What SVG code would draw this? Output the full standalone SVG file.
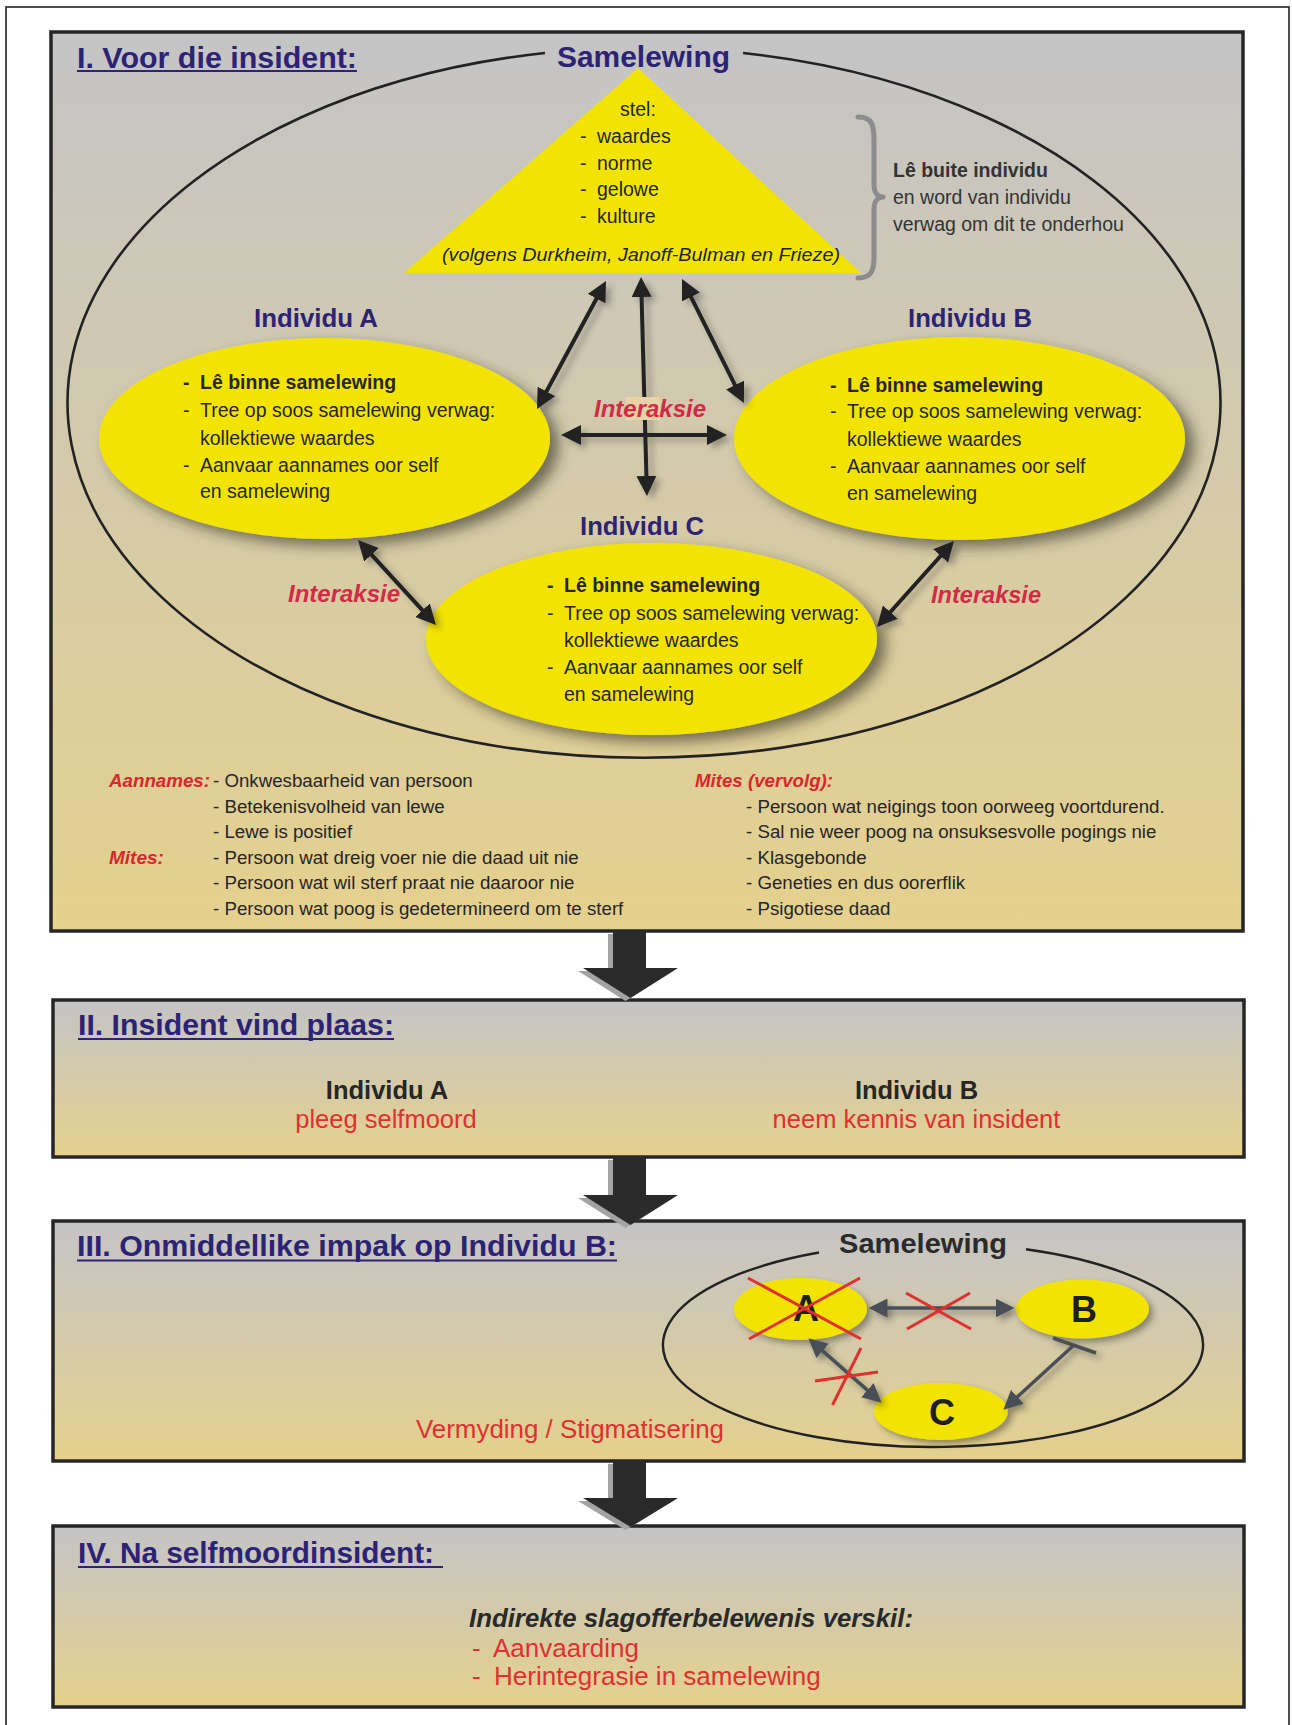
<svg xmlns="http://www.w3.org/2000/svg" width="1292" height="1725" viewBox="0 0 1292 1725">
<style>
text{font-family:"Liberation Sans",Arial,Helvetica,sans-serif}
.title{font-size:29px;font-weight:bold;fill:#2d2375}
.ind{font-size:25.5px;font-weight:bold;fill:#2d2375}
.b{font-size:19.5px;fill:#262626}
.bb{font-size:19.5px;font-weight:bold;fill:#262626}
.s{font-size:18.7px;fill:#262626}
.lab{font-size:19px;font-style:italic;font-weight:bold;fill:#d8282c}
.inter{font-size:23px;font-style:italic;font-weight:bold;fill:#d42a45}
.red{font-size:25.5px;fill:#e03030}
.blk{font-size:25.5px;font-weight:bold;fill:#262626}
.panel{fill:url(#pg);stroke:#262626;stroke-width:3.5}
.yel{fill:#f2e400}
.ul{stroke:#2d2375;stroke-width:2}
.arr{stroke:#222;stroke-width:4;fill:none}
.garr{stroke:#4a5057;stroke-width:3.5;fill:none}
.rx{stroke:#e0302f;stroke-width:3;fill:none}
.big{fill:#2a2a2a}
.bigsh{fill:#a3a3a3}
</style>
<defs>
<linearGradient id="pg" x1="0" y1="0" x2="0" y2="1">
<stop offset="0" stop-color="#c4c4c6"/>
<stop offset="1" stop-color="#e5d18d"/>
</linearGradient>
<filter id="sh" x="-20%" y="-30%" width="150%" height="170%">
<feDropShadow dx="9" dy="7" stdDeviation="7" flood-color="#2d2a22" flood-opacity="0.6"/>
</filter>
<filter id="ssh" x="-20%" y="-30%" width="150%" height="170%">
<feDropShadow dx="4" dy="4" stdDeviation="3" flood-color="#2d2a22" flood-opacity="0.45"/>
</filter>
<filter id="ash" filterUnits="userSpaceOnUse" x="0" y="0" width="1292" height="1725">
<feDropShadow dx="5" dy="4" stdDeviation="3" flood-color="#3a3a3a" flood-opacity="0.4"/>
</filter>
<marker id="ah" viewBox="0 0 20 20" refX="10" refY="10" markerWidth="20" markerHeight="20" markerUnits="userSpaceOnUse" orient="auto-start-reverse">
<path d="M0,0 L20,10 L0,20 z" fill="#222"/>
</marker>
<marker id="ag" viewBox="0 0 20 20" refX="10" refY="10" markerWidth="19" markerHeight="19" markerUnits="userSpaceOnUse" orient="auto-start-reverse">
<path d="M0,0 L20,10 L0,20 z" fill="#4a5057"/>
</marker>
</defs>

<rect x="6" y="7" width="1283" height="1730" fill="#fff" stroke="#222" stroke-width="1.6"/>

<!-- Panel I -->
<g id="panel1">
<rect class="panel" x="51" y="32" width="1192" height="899"/>
<text class="title" x="77" y="68" textLength="280" lengthAdjust="spacingAndGlyphs">I. Voor die insident:</text>
<line class="ul" x1="77" y1="71" x2="357" y2="71"/>
</g>

<g id="samelewing1">
<path d="M 743 53 A 576.5 355 0 1 1 545 53" fill="none" stroke="#222" stroke-width="2.6"/>
<text x="557" y="67" style="font-size:30px;font-weight:bold;fill:#2d2375" textLength="173" lengthAdjust="spacingAndGlyphs">Samelewing</text>
</g>

<g id="triangle">
<polygon class="yel" points="638,68 404,273 861,273"/>
<text class="b" x="638" y="116" text-anchor="middle">stel:</text>
<text class="b" y="143"><tspan x="580">-</tspan><tspan x="597">waardes</tspan></text>
<text class="b" y="170"><tspan x="580">-</tspan><tspan x="597">norme</tspan></text>
<text class="b" y="196"><tspan x="580">-</tspan><tspan x="597">gelowe</tspan></text>
<text class="b" y="223"><tspan x="580">-</tspan><tspan x="597">kulture</tspan></text>
<text x="442" y="261" style="font-size:18.5px;font-style:italic;fill:#222" textLength="398" lengthAdjust="spacingAndGlyphs">(volgens Durkheim, Janoff-Bulman en Frieze)</text>
</g>

<g id="brace-note">
<path d="M 858 117 C 872 117 874 125 874 140 L 874 185 C 874 193 878 197 883 197 C 878 197 874 201 874 209 L 874 258 C 874 272 870 278 858 278" fill="none" stroke="#8c8c8e" stroke-width="5" stroke-linecap="round" stroke-linejoin="round"/>
<text class="bb" x="893" y="177" style="fill:#333">Lê buite individu</text>
<text class="b" x="893" y="204" style="fill:#333">en word van individu</text>
<text class="b" x="893" y="231" style="fill:#333">verwag om dit te onderhou</text>
</g>

<g id="individuA">
<text class="ind" x="254" y="327" textLength="124" lengthAdjust="spacingAndGlyphs">Individu A</text>
<ellipse class="yel" cx="324.5" cy="438.5" rx="225.5" ry="100.5" filter="url(#sh)"/>
<text class="bb" y="389"><tspan x="183">-</tspan><tspan x="200">Lê binne samelewing</tspan></text>
<text class="b" y="417"><tspan x="183">-</tspan><tspan x="200">Tree op soos samelewing verwag:</tspan></text>
<text class="b" x="200" y="445">kollektiewe waardes</text>
<text class="b" y="472"><tspan x="183">-</tspan><tspan x="200">Aanvaar aannames oor self</tspan></text>
<text class="b" x="200" y="498">en samelewing</text>
</g>

<g id="individuB">
<text class="ind" x="908" y="327" textLength="124" lengthAdjust="spacingAndGlyphs">Individu B</text>
<ellipse class="yel" cx="959.5" cy="438.5" rx="225.5" ry="101.5" filter="url(#sh)"/>
<text class="bb" y="392"><tspan x="830">-</tspan><tspan x="847">Lê binne samelewing</tspan></text>
<text class="b" y="418"><tspan x="830">-</tspan><tspan x="847">Tree op soos samelewing verwag:</tspan></text>
<text class="b" x="847" y="446">kollektiewe waardes</text>
<text class="b" y="473"><tspan x="830">-</tspan><tspan x="847">Aanvaar aannames oor self</tspan></text>
<text class="b" x="847" y="500">en samelewing</text>
</g>

<g id="individuC">
<text class="ind" x="580" y="535" textLength="124" lengthAdjust="spacingAndGlyphs">Individu C</text>
<ellipse class="yel" cx="651.5" cy="639" rx="225.5" ry="96" filter="url(#sh)"/>
<text class="bb" y="592"><tspan x="547">-</tspan><tspan x="564">Lê binne samelewing</tspan></text>
<text class="b" y="620"><tspan x="547">-</tspan><tspan x="564">Tree op soos samelewing verwag:</tspan></text>
<text class="b" x="564" y="647">kollektiewe waardes</text>
<text class="b" y="674"><tspan x="547">-</tspan><tspan x="564">Aanvaar aannames oor self</tspan></text>
<text class="b" x="564" y="701">en samelewing</text>
</g>

<g id="notes1">
<text class="lab" x="109" y="787" textLength="101" lengthAdjust="spacingAndGlyphs">Aannames:</text>
<text class="s" x="213" y="787">- Onkwesbaarheid van persoon</text>
<text class="s" x="213" y="813">- Betekenisvolheid van lewe</text>
<text class="s" x="213" y="838">- Lewe is positief</text>
<text class="lab" x="109" y="864">Mites:</text>
<text class="s" x="213" y="864">- Persoon wat dreig voer nie die daad uit nie</text>
<text class="s" x="213" y="889">- Persoon wat wil sterf praat nie daaroor nie</text>
<text class="s" x="213" y="915">- Persoon wat poog is gedetermineerd om te sterf</text>
<text class="lab" x="695" y="787" textLength="138" lengthAdjust="spacingAndGlyphs">Mites (vervolg):</text>
<text class="s" x="746" y="813">- Persoon wat neigings toon oorweeg voortdurend.</text>
<text class="s" x="746" y="838">- Sal nie weer poog na onsuksesvolle pogings nie</text>
<text class="s" x="746" y="864">- Klasgebonde</text>
<text class="s" x="746" y="889">- Geneties en dus oorerflik</text>
<text class="s" x="746" y="915">- Psigotiese daad</text>
</g>

<!-- Panel II -->
<g id="panel2">
<rect class="panel" x="53" y="1000" width="1191" height="157"/>
<text class="title" x="78" y="1035" textLength="316" lengthAdjust="spacingAndGlyphs">II. Insident vind plaas:</text>
<line class="ul" x1="78" y1="1039" x2="394" y2="1039"/>
<text class="blk" x="387" y="1099" text-anchor="middle">Individu A</text>
<text class="red" x="386" y="1128" text-anchor="middle">pleeg selfmoord</text>
<text class="blk" x="916.5" y="1099" text-anchor="middle">Individu B</text>
<text class="red" x="916.5" y="1128" text-anchor="middle">neem kennis van insident</text>
</g>

<!-- Panel III -->
<g id="panel3">
<rect class="panel" x="53" y="1221" width="1191" height="240"/>
<text class="title" x="77" y="1256" textLength="540" lengthAdjust="spacingAndGlyphs">III. Onmiddellike impak op Individu B:</text>
<line class="ul" x1="77" y1="1260.5" x2="617" y2="1260.5"/>
<text class="red" x="416" y="1438" textLength="308" lengthAdjust="spacingAndGlyphs">Vermyding / Stigmatisering</text>
</g>
<g id="samelewing3">
<path d="M 1026 1249.2 A 270 102 0 1 1 819 1252.5" fill="none" stroke="#222" stroke-width="2.4"/>
<text x="839" y="1253" style="font-size:27px;font-weight:bold;fill:#2b2b2b" textLength="168" lengthAdjust="spacingAndGlyphs">Samelewing</text>
</g>
<g id="nodeA3">
<ellipse class="yel" cx="800.5" cy="1309" rx="66.5" ry="31" filter="url(#ssh)"/>
<text x="806" y="1321" text-anchor="middle" style="font-size:36px;font-weight:bold;fill:#1e1e1e">A</text>
</g>
<g id="nodeB3">
<ellipse class="yel" cx="1082.5" cy="1309" rx="66.5" ry="29.5" filter="url(#ssh)"/>
<text x="1084" y="1322" text-anchor="middle" style="font-size:36px;font-weight:bold;fill:#1e1e1e">B</text>
</g>
<g id="nodeC3">
<ellipse class="yel" cx="941" cy="1411.5" rx="67" ry="28.5" filter="url(#ssh)"/>
<text x="942" y="1425" text-anchor="middle" style="font-size:36px;font-weight:bold;fill:#1e1e1e">C</text>
</g>

<!-- Panel IV -->
<g id="panel4">
<rect class="panel" x="53" y="1526" width="1191" height="181"/>
<text class="title" x="78" y="1563" textLength="356" lengthAdjust="spacingAndGlyphs">IV. Na selfmoordinsident:</text>
<line class="ul" x1="78" y1="1567" x2="443" y2="1567"/>
<text x="469" y="1627" style="font-size:25.5px;font-weight:bold;font-style:italic;fill:#2a2a2a" textLength="444" lengthAdjust="spacingAndGlyphs">Indirekte slagofferbelewenis verskil:</text>
<text class="red" y="1657" style="font-size:26px"><tspan x="472">-</tspan><tspan x="493">Aanvaarding</tspan></text>
<text class="red" y="1685" style="font-size:26px"><tspan x="472">-</tspan><tspan x="494">Herintegrasie in samelewing</tspan></text>
</g>

<g id="connectors">
<g filter="url(#ash)">
<line class="arr" x1="601.3" y1="289.8" x2="541.7" y2="400.2" marker-start="url(#ah)" marker-end="url(#ah)"/>
<line class="arr" x1="641.3" y1="287" x2="646.7" y2="486" marker-start="url(#ah)" marker-end="url(#ah)"/>
<line class="arr" x1="686.5" y1="287.9" x2="739.5" y2="394.1" marker-start="url(#ah)" marker-end="url(#ah)"/>
<line class="arr" x1="571" y1="435" x2="717" y2="435" marker-start="url(#ah)" marker-end="url(#ah)"/>
<line class="arr" x1="364.8" y1="547.4" x2="429.2" y2="617.6" marker-start="url(#ah)" marker-end="url(#ah)"/>
<line class="arr" x1="947.3" y1="548.5" x2="883.7" y2="619.5" marker-start="url(#ah)" marker-end="url(#ah)"/>
</g>
<rect x="626" y="397" width="34" height="23" fill="#e6d4a6"/>
<text class="inter" x="594" y="417" textLength="112" lengthAdjust="spacingAndGlyphs">Interaksie</text>
<text class="inter" x="288" y="602" textLength="112" lengthAdjust="spacingAndGlyphs">Interaksie</text>
<text class="inter" x="931" y="603" textLength="110" lengthAdjust="spacingAndGlyphs">Interaksie</text>

<g filter="url(#ssh)">
<line class="garr" x1="878" y1="1308" x2="1005" y2="1308" marker-start="url(#ag)" marker-end="url(#ag)"/>
<line class="garr" x1="815.5" y1="1344.6" x2="874.5" y2="1396.4" marker-start="url(#ag)" marker-end="url(#ag)"/>
<line class="garr" x1="1074" y1="1345" x2="1010.4" y2="1403.3" marker-end="url(#ag)"/>
<line class="garr" x1="1053" y1="1338" x2="1096" y2="1353" stroke-width="4"/>
</g>
</g>

<g id="crosses3">
<line class="rx" x1="748" y1="1278" x2="861" y2="1339"/>
<line class="rx" x1="860" y1="1278" x2="749" y2="1339"/>
<line class="rx" x1="906" y1="1293" x2="971" y2="1329"/>
<line class="rx" x1="970" y1="1293" x2="907" y2="1329"/>
<line class="rx" x1="861" y1="1348" x2="832.5" y2="1405"/>
<line class="rx" x1="815" y1="1381" x2="878" y2="1372"/>
</g>

<!-- big flow arrows -->
<g id="flow-arrows">
<g transform="translate(-5,3)">
<polygon class="bigsh" points="613,931 646,931 646,968 678,968 630.5,998 583,968 613,968"/>
<polygon class="bigsh" points="613,1157 646,1157 646,1195 678,1195 630.5,1225 583,1195 613,1195"/>
<polygon class="bigsh" points="613,1461 646,1461 646,1498 678,1498 630.5,1527 583,1498 613,1498"/>
</g>
<polygon class="big" points="613,931 646,931 646,968 678,968 630.5,998 583,968 613,968"/>
<polygon class="big" points="613,1157 646,1157 646,1195 678,1195 630.5,1225 583,1195 613,1195"/>
<polygon class="big" points="613,1461 646,1461 646,1498 678,1498 630.5,1527 583,1498 613,1498"/>
</g>
</svg>
